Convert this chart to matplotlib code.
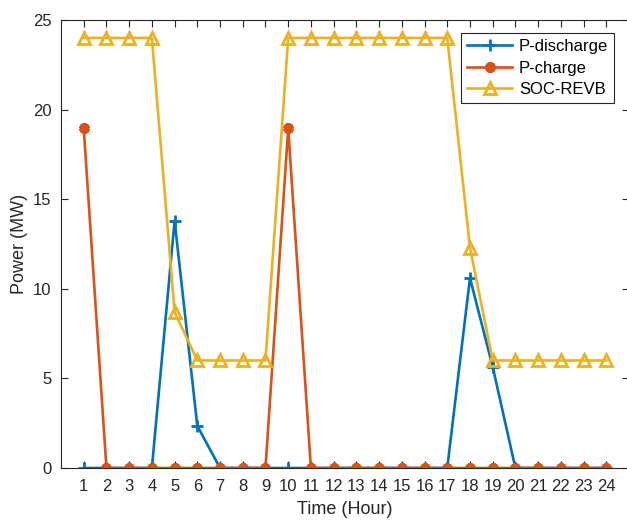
import matplotlib
matplotlib.use("Agg")
import matplotlib.pyplot as plt

hours = list(range(1, 25))
p_discharge = [0, 0, 0, 0, 13.8, 2.35, 0, 0, 0, 0, 0, 0, 0, 0, 0, 0, 0, 10.6, 5.65, 0, 0, 0, 0, 0]
p_charge = [18.95, 0, 0, 0, 0, 0, 0, 0, 0, 18.95, 0, 0, 0, 0, 0, 0, 0, 0, 0, 0, 0, 0, 0, 0]
soc_revb = [24, 24, 24, 24, 8.7, 6, 6, 6, 6, 24, 24, 24, 24, 24, 24, 24, 24, 12.3, 6, 6, 6, 6, 6, 6]

plt.rcParams['font.family'] = ['Liberation Sans', 'DejaVu Sans']

fig = plt.figure(figsize=(6.27, 5.20), dpi=100)
ax = fig.add_axes([61/627, 52/520, 568/627, 448/520])

c1, c2, c3 = '#0072BD', '#D95319', '#EDB120'
ax.plot(hours, p_discharge, color=c1, lw=1.9, marker='+', ms=8, mew=2, label='P-discharge')
ax.plot(hours, p_charge, color=c2, lw=1.9, marker=(6, 2, 0), ms=7.5, mew=3, label='P-charge')
ax.plot(hours, soc_revb, color=c3, lw=1.9, marker='^', ms=9, mew=2, mfc='none', label='SOC-REVB')

ax.set_xlim(0, 25)
ax.set_ylim(0, 25)
ax.set_xticks(hours)
ax.set_yticks([0, 5, 10, 15, 20, 25])
ax.tick_params(direction='in', top=True, right=True, length=5, width=0.8, labelsize=12,
               colors='#262626')
ax.tick_params(axis='x', pad=8)
ax.tick_params(axis='y', pad=7)
for s in ax.spines.values():
    s.set_linewidth(0.8)
    s.set_color('#262626')
ax.set_xlabel('Time (Hour)', fontsize=13, color='#262626', labelpad=5)
ax.set_ylabel('Power (MW)', fontsize=13, color='#262626', labelpad=3)

leg = ax.legend(loc='upper right', bbox_to_anchor=(614/627, 1 - 33/520), bbox_transform=fig.transFigure,
                fontsize=12, fancybox=False, edgecolor='#262626', framealpha=1, handlelength=2.7,
                borderpad=0.35, labelspacing=0.4, handletextpad=0.4, borderaxespad=0)
leg.get_frame().set_linewidth(0.8)

fig.savefig('out.png', dpi=100)
